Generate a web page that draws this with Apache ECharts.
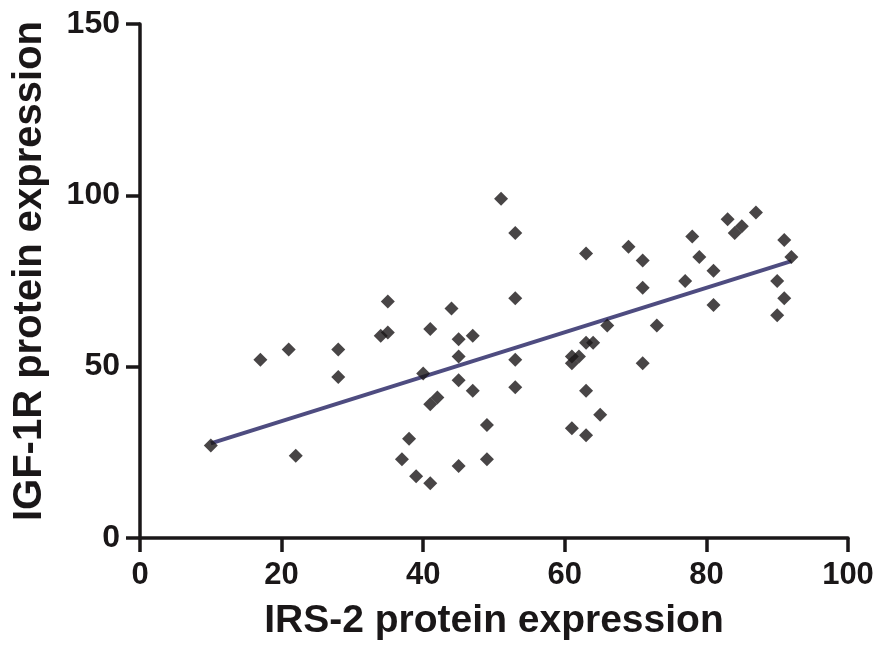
<!DOCTYPE html>
<html>
<head>
<meta charset="utf-8">
<script src="https://cdn.jsdelivr.net/npm/echarts@6/dist/echarts.min.js"></script>
<style>
  html, body { margin: 0; padding: 0; background: #fff; }
  #main { width: 878px; height: 648px; }
</style>
</head>
<body>
<div id="main"></div>
<script>
// IRS-2 (x) 和 IGF-1R (y) 散点
var irs2 = [10, 17, 21, 22, 28, 28, 34, 35, 35, 37, 38, 39, 40, 41, 41, 42, 41, 44, 45, 45, 45, 45, 47, 47, 49, 49,
            51, 53, 53, 53, 53, 61, 62, 61, 63, 64, 63, 63, 63, 61, 65, 66, 69, 71, 71, 71, 73, 77, 78, 79, 81, 81,
            83, 84, 85, 87, 90, 90, 91, 91, 92];
var igf1r = [27, 52, 55, 24, 55, 47, 59, 60, 69, 23, 29, 18, 48, 61, 39, 41, 16, 67, 58, 53, 46, 21, 59, 43, 33, 23,
             99, 89, 70, 52, 44, 53, 53, 51, 57, 57, 83, 43, 30, 32, 36, 62, 85, 81, 73, 51, 62, 75, 88, 82, 78, 68,
             93, 89, 91, 95, 75, 65, 87, 70, 82];
// 回归线两端
var fitX = [10, 92];
var fitY = [27.6, 80.8];
// 刻度
var xTicks = [0, 20, 40, 60, 80, 100];
var yTicks = [0, 50, 100, 150];

var points = irs2.map(function (x, i) { return [x, igf1r[i]]; });
var fitLine = fitX.map(function (x, i) { return [x, fitY[i]]; });

var ink = '#1a1718';
var font = "'Liberation Sans', Arial, sans-serif";

var myChart = echarts.init(document.getElementById('main'));
var option = {
    animation: false,
    backgroundColor: '#fff',
    grid: { left: 140, right: 30, top: 24, bottom: 110 },
    xAxis: {
        type: 'value',
        min: xTicks[0],
        max: xTicks[xTicks.length - 1],
        interval: 20,
        name: 'IRS-2 protein expression',
        nameLocation: 'middle',
        nameGap: 64,
        nameTextStyle: { color: ink, fontFamily: font, fontWeight: 'bold', fontSize: 39 },
        axisLine: { show: true, lineStyle: { color: ink, width: 3.5 } },
        axisTick: { show: true, length: 14, lineStyle: { color: ink, width: 3.5 } },
        axisLabel: { color: ink, fontFamily: font, fontWeight: 'bold', fontSize: 31, margin: 22 },
        splitLine: { show: false }
    },
    yAxis: {
        type: 'value',
        min: yTicks[0],
        max: yTicks[yTicks.length - 1],
        interval: 50,
        name: 'IGF-1R protein expression',
        nameLocation: 'middle',
        nameGap: 90,
        nameTextStyle: { color: ink, fontFamily: font, fontWeight: 'bold', fontSize: 40, padding: [0, 0, 0, 20] },
        axisLine: { show: true, lineStyle: { color: ink, width: 3.5 } },
        axisTick: { show: true, length: 14, lineStyle: { color: ink, width: 3.5 } },
        axisLabel: { color: ink, fontFamily: font, fontWeight: 'bold', fontSize: 32, margin: 20 },
        splitLine: { show: false }
    },
    series: [
        {
            type: 'line',
            data: fitLine,
            symbol: 'none',
            lineStyle: { color: '#4e4c80', width: 4 },
            z: 2
        },
        {
            type: 'scatter',
            data: points,
            symbol: 'diamond',
            symbolSize: 14,
            itemStyle: { color: ink },
            z: 3
        }
    ]
};
myChart.setOption(option);
</script>
</body>
</html>
